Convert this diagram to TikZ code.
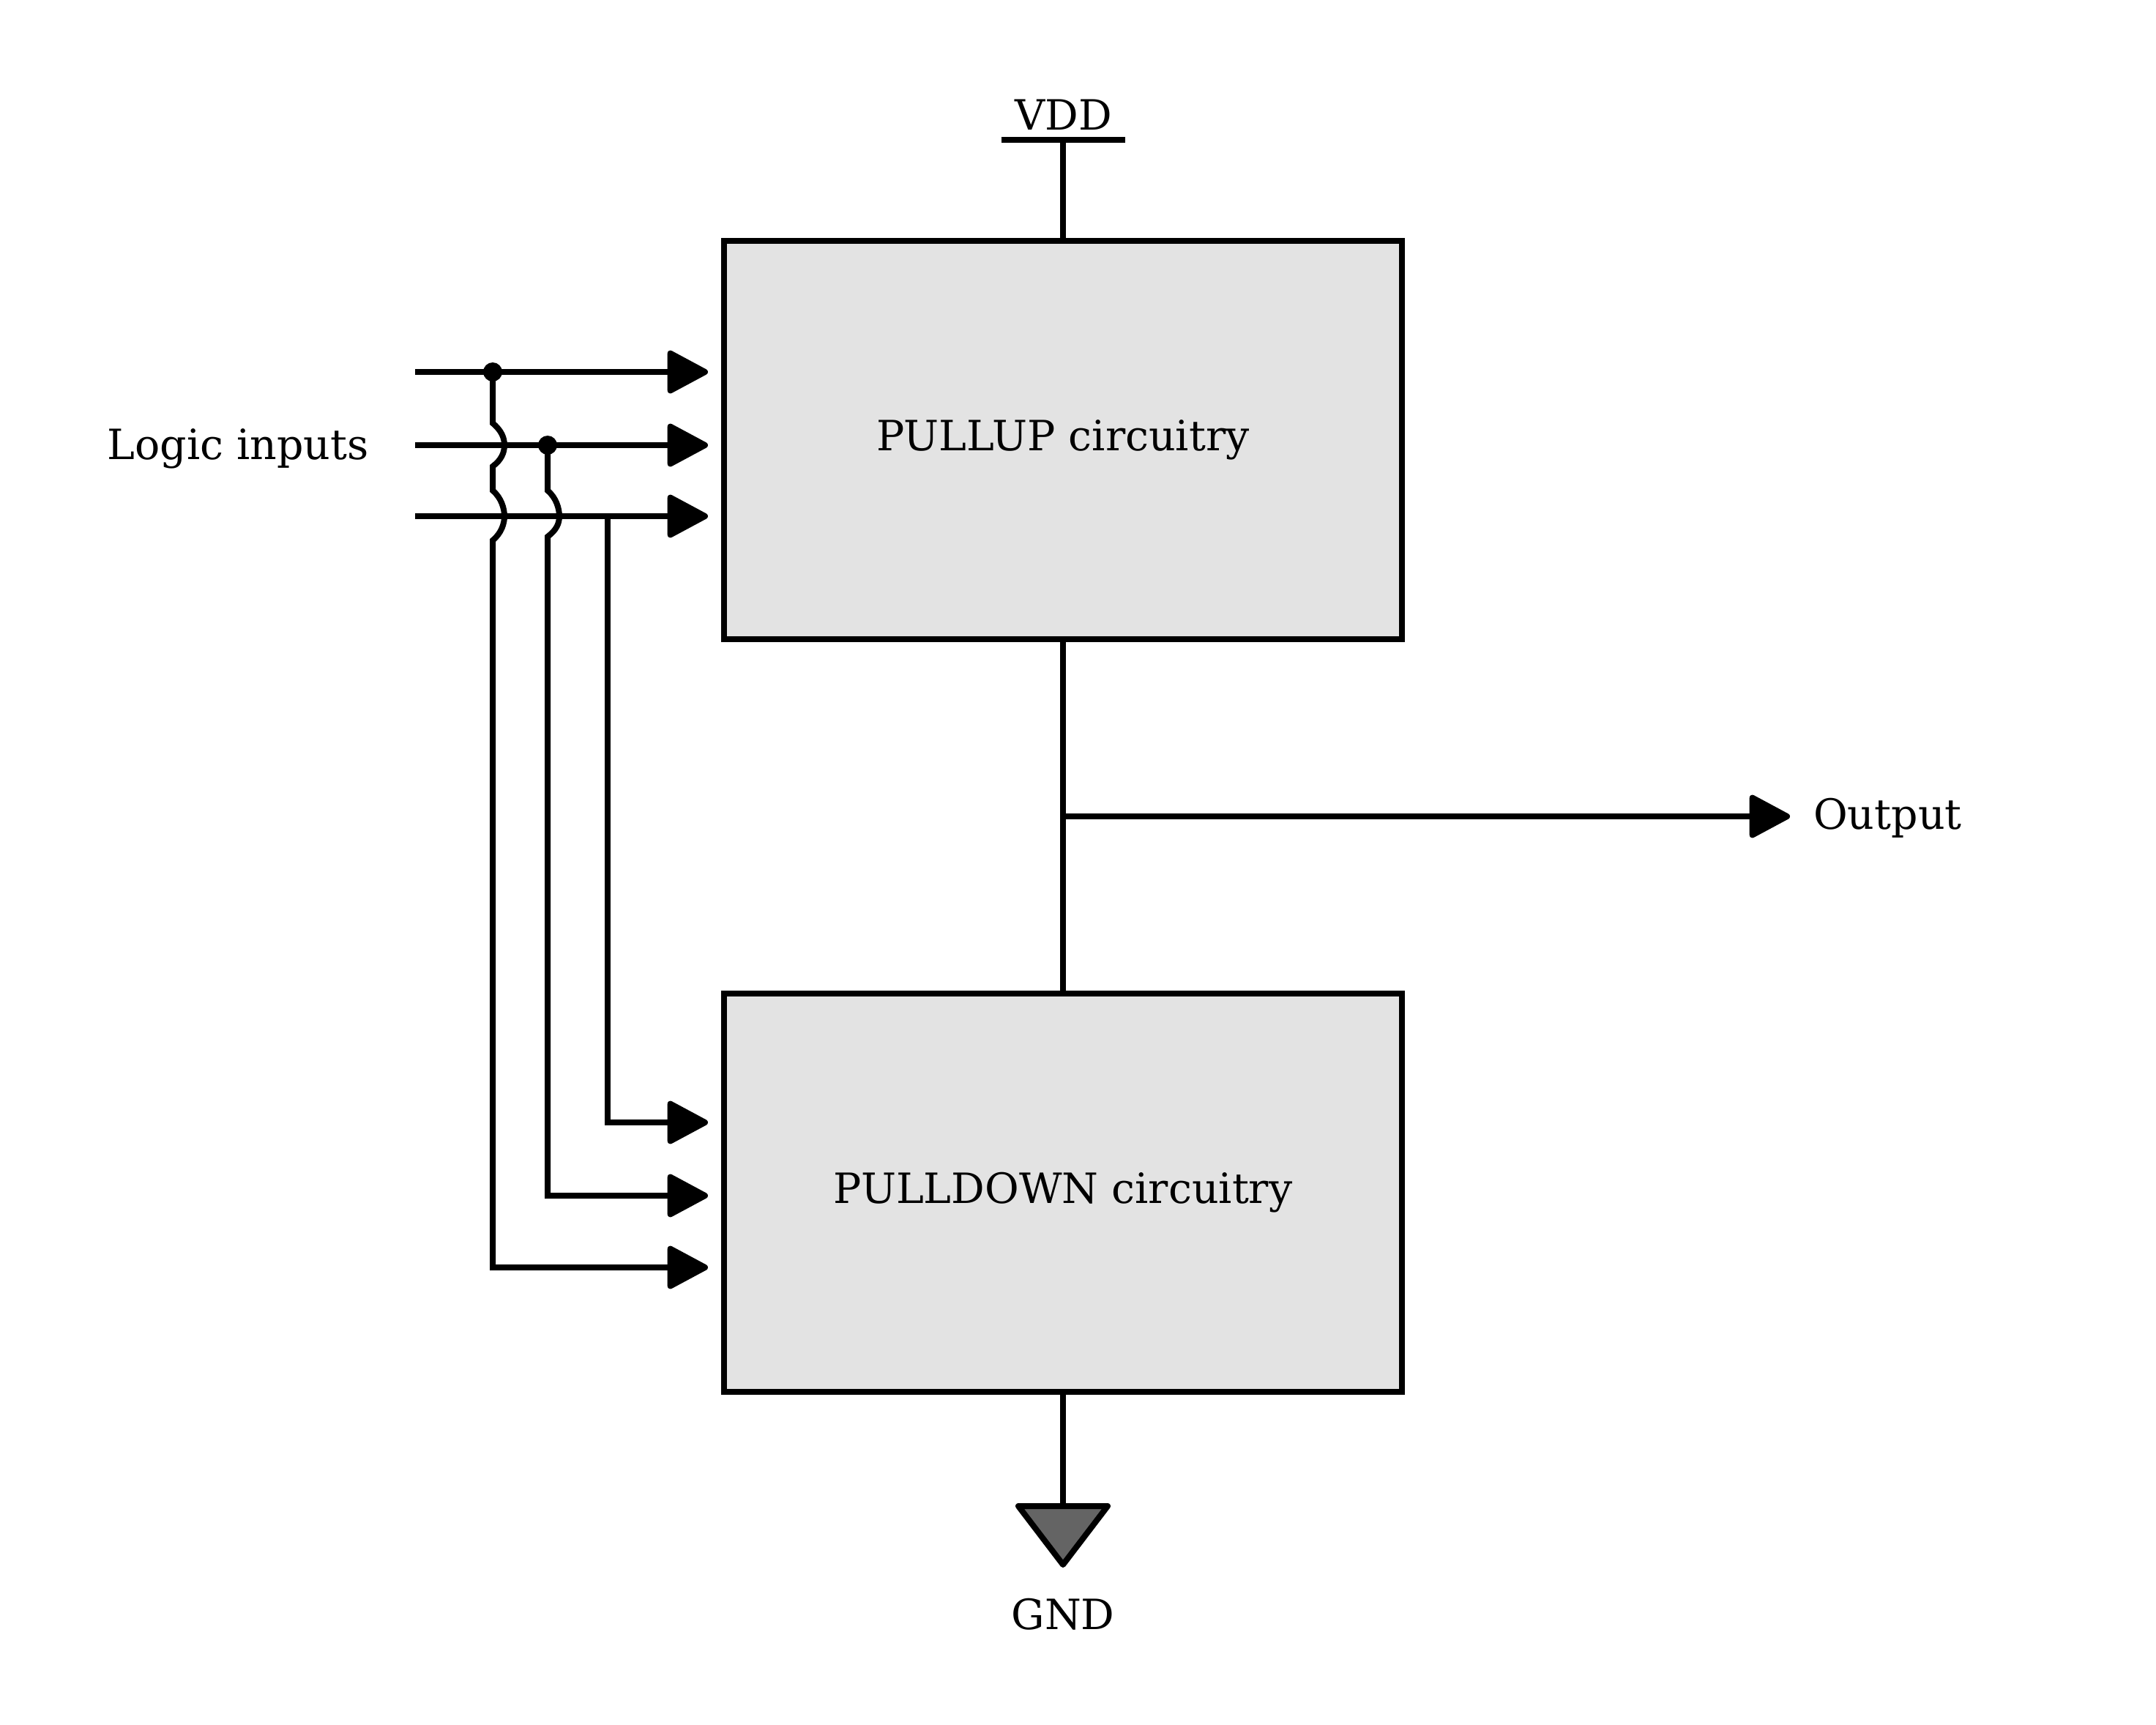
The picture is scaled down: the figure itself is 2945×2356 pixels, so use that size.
\documentclass[tikz,border=0pt]{standalone}
\usepackage{fontspec}
\usetikzlibrary{arrows.meta}
\newfontfamily\lblfam{DejaVu Serif}
\definecolor{boxgray}{HTML}{E3E3E3}
\definecolor{gndgray}{HTML}{646464}
\newcommand\lblfont{\lblfam\fontsize{57}{68}\selectfont}
\begin{document}
\begin{tikzpicture}[x=1pt,y=-1pt,
  wire/.style={line width=8pt},
  sig/.style={wire,-{Triangle[length=60pt,width=62pt,round]}},
  block/.style={draw,line width=8pt,fill=boxgray,minimum width=926pt,minimum height=544pt,inner sep=0pt,font=\lblfont},
  lbl/.style={font=\lblfont,inner sep=0pt},
  jdot/.style={circle,fill,inner sep=0pt,minimum size=26pt}]
\useasboundingbox[fill=white] (0,0) rectangle (2945,2356);

% blocks
\node[block] (pu) at (1452,601) {PULLUP circuitry};
\node[block] (pd) at (1452,1628.5) {PULLDOWN circuitry};

% VDD
\coordinate (vdd) at (1452,191);
\draw[wire] (pu.north) -- (vdd);
\draw[wire] ([xshift=-84.5pt]vdd) -- ([xshift=84.5pt]vdd);
\node[lbl,anchor=base] (vddl) at (1453,177) {VDD};

% pullup to pulldown, output
\draw[wire] (pu.south) -- (pd.north);
\coordinate (tap) at (1452,1115);
\node[lbl,anchor=base west] (out) at (2477,1132) {Output};
\draw[sig,shorten >=32pt] (tap) -- (tap -| out.west);

% GND
\coordinate (gt) at (1452,2057);
\draw[wire] (pd.south) -- (gt);
\draw[wire,line join=round,fill=gndgray] (1391,2057) -- (1513,2057) -- (1452,2137) -- cycle;
\node[lbl,anchor=base] (gndl) at (1452,2225) {GND};

% logic inputs
\node[lbl,anchor=base] (li) at (325,627) {Logic inputs};
\coordinate (i1) at (567,508);
\coordinate (i2) at (567,608);
\coordinate (i3) at (567,705);
\draw[sig,shorten >=18pt] (i1) -- (i1 -| pu.west);
\draw[sig,shorten >=18pt] (i2) -- (i2 -| pu.west);
\draw[sig,shorten >=18pt] (i3) -- (i3 -| pu.west);

\node[jdot] (d1) at (673,508) {};
\node[jdot] (d2) at (748,608) {};
\coordinate (j3) at (830,705);
\coordinate (b1) at (673,1731);
\coordinate (b2) at (748,1633);
\coordinate (b3) at (830,1533);

\draw[sig,shorten >=18pt] (d1.center) -- (673,578)
  .. controls (685,588) and (689,598) .. (689,608)
  .. controls (689,618) and (685,628) .. (673,637)
  -- (673,670)
  .. controls (685,680) and (689,695) .. (689,705)
  .. controls (689,715) and (685,728) .. (673,738)
  -- (b1) -- (b1 -| pd.west);
\draw[sig,shorten >=18pt] (d2.center) -- (748,670)
  .. controls (760,680) and (764,695) .. (764,705)
  .. controls (764,715) and (760,724) .. (748,733)
  -- (b2) -- (b2 -| pd.west);
\draw[sig,shorten >=18pt] (j3) -- (b3) -- (b3 -| pd.west);
\end{tikzpicture}
\end{document}
